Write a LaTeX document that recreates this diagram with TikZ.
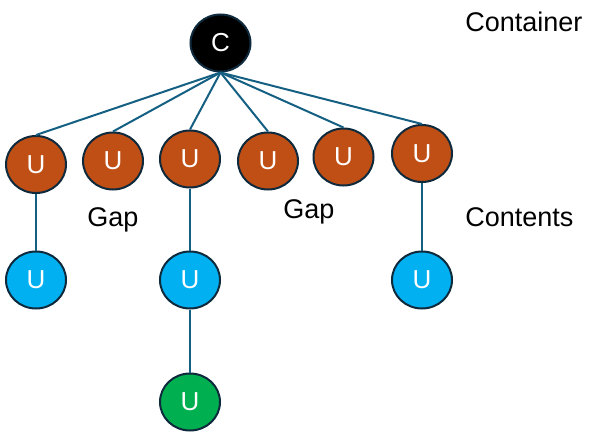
\documentclass[tikz,border=0pt]{standalone}
\usepackage{fontspec}
\setmainfont{Liberation Sans}
\usetikzlibrary{positioning,shapes.geometric}
\definecolor{linkBlue}{HTML}{156082}
\definecolor{rimDark}{HTML}{0E2A3C}
\definecolor{unitOrange}{HTML}{C04F15}
\definecolor{unitBlue}{HTML}{00B0F0}
\definecolor{unitGreen}{HTML}{00B050}
\tikzset{main node/.style={ellipse,draw=rimDark,line width=1pt,minimum width=30pt,minimum height=28.5pt,inner sep=0pt,text=white,font=\fontsize{13}{15}\selectfont}}
\tikzset{label node/.style={anchor=base west,inner sep=0pt,font=\fontsize{13.5}{16}\selectfont}}

\begin{document}
\begin{tikzpicture}[x=0.5pt,y=-0.5pt]
    \useasboundingbox (0,0) rectangle (590,439);
    \node[main node,fill=black] (0) at (220.5,43) {C};
    \node[main node,fill=unitOrange] (1) at (36,164.5) {U};
    \node[main node,fill=unitOrange] (2) at (113,161) {U};
    \node[main node,fill=unitOrange] (3) at (190,159) {U};
    \node[main node,fill=unitOrange] (4) at (268,161) {U};
    \node[main node,fill=unitOrange] (5) at (343.5,157) {U};
    \node[main node,fill=unitOrange] (6) at (422,153.5) {U};
    \node[main node,fill=unitBlue] (7) at (36,280) {U};
    \node[main node,fill=unitBlue] (8) at (190,280) {U};
    \node[main node,fill=unitBlue] (9) at (422,280) {U};
    \node[main node,fill=unitGreen] (10) [below = 31.5pt of 8] {U};

    \node[label node] (11) at (465,32) {Container};
    \node[label node] (12) at (465,226) {Contents};
    \node[label node] (13) at (87,226) {Gap};
    \node[label node] (14) at (283,218) {Gap};

    \draw[linkBlue,line width=1pt] (0.south) -- (1.north);
    \draw[linkBlue,line width=1pt] (0.south) -- (2.north);
    \draw[linkBlue,line width=1pt] (0.south) -- (3.north);
    \draw[linkBlue,line width=1pt] (0.south) -- (4.north);
    \draw[linkBlue,line width=1pt] (0.south) -- (5.north);
    \draw[linkBlue,line width=1pt] (0.south) -- (6.north);
    \draw[linkBlue,line width=1pt] (1) -- (7);
    \draw[linkBlue,line width=1pt] (3) -- (8) -- (10);
    \draw[linkBlue,line width=1pt] (6) -- (9);
\end{tikzpicture}
\end{document}
